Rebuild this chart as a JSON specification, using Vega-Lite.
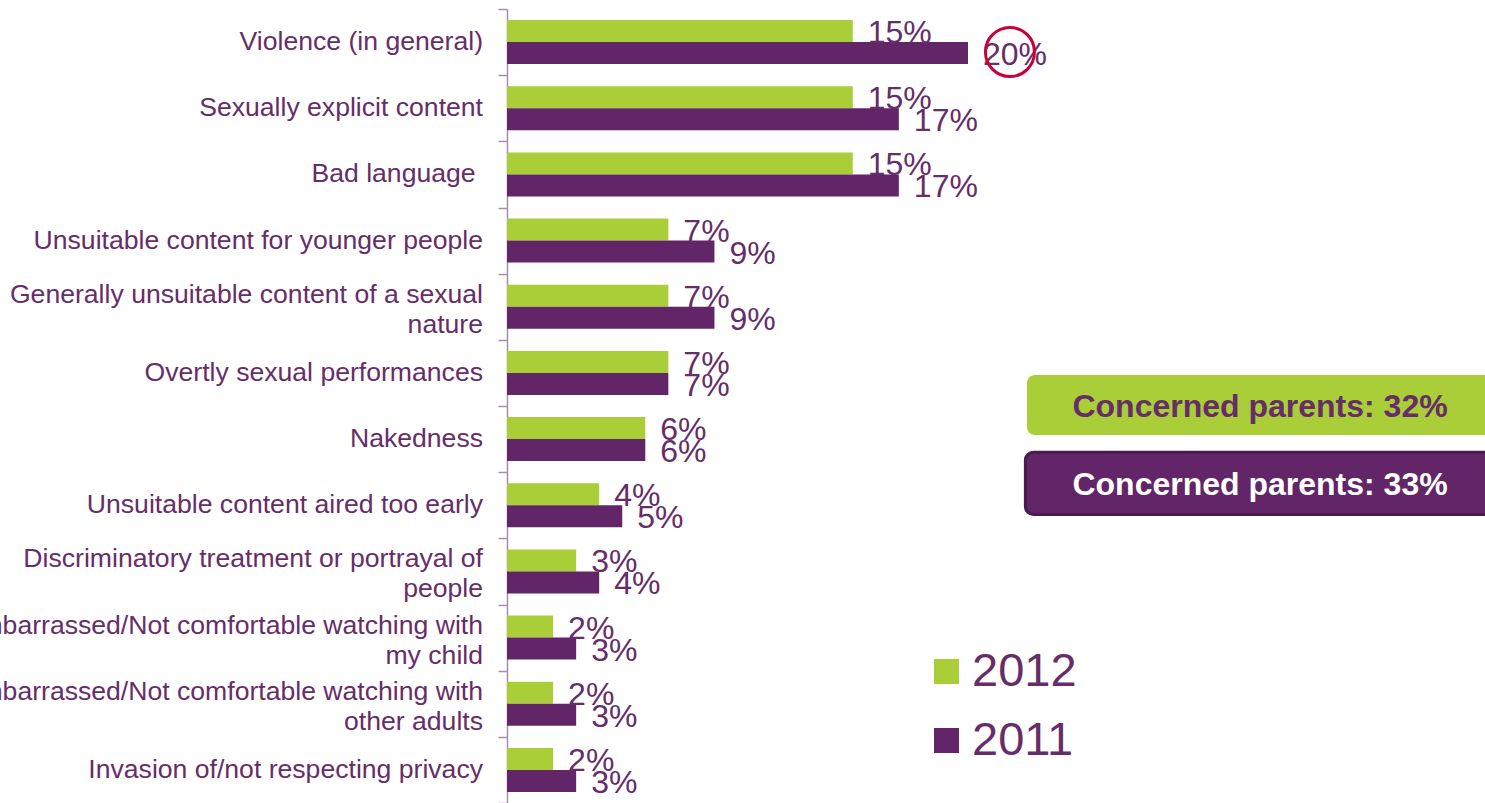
{
  "$schema": "https://vega.github.io/schema/vega-lite/v6.json",
  "width": 978,
  "height": 794,
  "autosize": {"type": "none"},
  "padding": {"left": 507, "top": 9, "right": 0, "bottom": 0},
  "background": "white",
  "config": {"view": {"stroke": null}, "font": "Liberation Sans"},
  "datasets": {
    "main": [
      {"cat": "Violence (in general)", "year": "2012", "value": 0.15},
      {"cat": "Violence (in general)", "year": "2011", "value": 0.20},
      {"cat": "Sexually explicit content", "year": "2012", "value": 0.15},
      {"cat": "Sexually explicit content", "year": "2011", "value": 0.17},
      {"cat": "Bad language\u00a0\u200b", "year": "2012", "value": 0.15},
      {"cat": "Bad language\u00a0\u200b", "year": "2011", "value": 0.17},
      {"cat": "Unsuitable content for younger people", "year": "2012", "value": 0.07},
      {"cat": "Unsuitable content for younger people", "year": "2011", "value": 0.09},
      {"cat": "Generally unsuitable content of a sexual\nnature", "year": "2012", "value": 0.07},
      {"cat": "Generally unsuitable content of a sexual\nnature", "year": "2011", "value": 0.09},
      {"cat": "Overtly sexual performances", "year": "2012", "value": 0.07},
      {"cat": "Overtly sexual performances", "year": "2011", "value": 0.07},
      {"cat": "Nakedness", "year": "2012", "value": 0.06},
      {"cat": "Nakedness", "year": "2011", "value": 0.06},
      {"cat": "Unsuitable content aired too early", "year": "2012", "value": 0.04},
      {"cat": "Unsuitable content aired too early", "year": "2011", "value": 0.05},
      {"cat": "Discriminatory treatment or portrayal of\npeople", "year": "2012", "value": 0.03},
      {"cat": "Discriminatory treatment or portrayal of\npeople", "year": "2011", "value": 0.04},
      {"cat": "Embarrassed/Not comfortable watching with\nmy child", "year": "2012", "value": 0.02},
      {"cat": "Embarrassed/Not comfortable watching with\nmy child", "year": "2011", "value": 0.03},
      {"cat": "Embarrassed/Not comfortable watching with\nother adults", "year": "2012", "value": 0.02},
      {"cat": "Embarrassed/Not comfortable watching with\nother adults", "year": "2011", "value": 0.03},
      {"cat": "Invasion of/not respecting privacy", "year": "2012", "value": 0.02},
      {"cat": "Invasion of/not respecting privacy", "year": "2011", "value": 0.03}
    ],
    "notes": [
      {"year": "2012", "x": 0.2256, "x2": 0.46, "y": 5.53, "y2": 6.44, "tx": 0.3267, "ty": 6.01, "label": "Concerned parents: 32%"},
      {"year": "2011", "x": 0.2249, "x2": 0.46, "y": 6.70, "y2": 7.64, "tx": 0.3267, "ty": 7.20, "label": "Concerned parents: 33%"}
    ],
    "highlight": [
      {"x": 0.2182, "y": 0.65}
    ]
  },
  "layer": [
    {
      "data": {"name": "main"},
      "encoding": {
        "y": {
          "field": "cat",
          "type": "nominal",
          "sort": null,
          "scale": {"paddingInner": 0, "paddingOuter": 0},
          "axis": {
            "title": null,
            "labels": false,
            "tickBand": "extent",
            "domainColor": "#A390AB",
            "tickColor": "#A390AB",
            "domainWidth": 1.5,
            "tickWidth": 1.5,
            "tickSize": 9
          }
        }
      },
      "layer": [
        {
          "mark": {"type": "bar"},
          "encoding": {
            "yOffset": {
              "field": "year",
              "type": "nominal",
              "sort": ["2012", "2011"],
              "scale": {"paddingInner": 0, "paddingOuter": 0.504}
            },
            "x": {
              "field": "value",
              "type": "quantitative",
              "scale": {"domain": [0, 0.4243], "nice": false, "zero": true},
              "axis": null
            },
            "color": {
              "field": "year",
              "type": "nominal",
              "scale": {"domain": ["2012", "2011"], "range": ["#A9CE38", "#622567"]},
              "legend": {
                "title": null,
                "orient": "none",
                "legendX": 416,
                "legendY": 639,
                "direction": "vertical",
                "padding": 0,
                "symbolType": "square",
                "symbolSize": 625,
                "symbolStrokeWidth": 0,
                "labelFont": "Liberation Sans",
                "labelFontSize": 47,
                "labelColor": "#662D69",
                "labelOffset": 2,
                "rowPadding": 21
              }
            }
          }
        },
        {
          "mark": {"type": "text", "align": "left", "baseline": "middle", "dx": 15, "dy": 2, "fontSize": 32, "font": "Liberation Sans", "color": "#662D69"},
          "encoding": {
            "yOffset": {"field": "year", "type": "nominal", "sort": ["2012", "2011"]},
            "x": {"field": "value", "type": "quantitative"},
            "text": {"field": "value", "type": "quantitative", "format": ".0%"}
          }
        },
        {
          "transform": [{"filter": "datum.year === '2012'"}],
          "mark": {
            "type": "text",
            "align": "right",
            "baseline": "middle",
            "dx": -24,
            "dy": {"expr": "indexof(datum.cat, '\\n') >= 0 ? -12 : 0"},
            "lineBreak": "\n",
            "lineHeight": 30,
            "fontSize": 26.6,
            "font": "Liberation Sans",
            "color": "#662D69"
          },
          "encoding": {
            "x": {"datum": 0, "type": "quantitative"},
            "text": {"field": "cat"}
          }
        }
      ]
    },
    {
      "encoding": {
        "y": {"type": "quantitative", "scale": {"domain": [0, 12], "reverse": true, "nice": false, "zero": false}, "axis": null}
      },
      "layer": [
        {
          "data": {"name": "notes"},
          "mark": {"type": "rect", "cornerRadius": 8, "strokeWidth": 3},
          "encoding": {
            "x": {"field": "x", "type": "quantitative"},
            "x2": {"field": "x2"},
            "y": {"field": "y", "type": "quantitative", "scale": {"domain": [0, 12], "reverse": true, "nice": false, "zero": false}, "axis": null},
            "y2": {"field": "y2"},
            "fill": {"condition": {"test": "datum.year === '2012'", "value": "#A9CE38"}, "value": "#622567"},
            "stroke": {"condition": {"test": "datum.year === '2011'", "value": "#4A1B4D"}, "value": "transparent"}
          }
        },
        {
          "data": {"name": "notes"},
          "mark": {"type": "text", "align": "center", "baseline": "middle", "fontSize": 32, "fontWeight": "bold", "font": "Liberation Sans"},
          "encoding": {
            "x": {"field": "tx", "type": "quantitative"},
            "y": {"field": "ty", "type": "quantitative", "scale": {"domain": [0, 12], "reverse": true, "nice": false, "zero": false}, "axis": null},
            "text": {"field": "label"},
            "color": {"condition": {"test": "datum.year === '2012'", "value": "#662D69"}, "value": "white"}
          }
        },
        {
          "data": {"name": "highlight"},
          "mark": {"type": "point", "shape": "circle", "filled": false, "stroke": "#C8003C", "strokeWidth": 3, "size": 2400, "opacity": 1},
          "encoding": {
            "x": {"field": "x", "type": "quantitative"},
            "y": {"field": "y", "type": "quantitative", "scale": {"domain": [0, 12], "reverse": true, "nice": false, "zero": false}, "axis": null}
          }
        }
      ]
    }
  ],
  "resolve": {"scale": {"y": "independent"}}
}
